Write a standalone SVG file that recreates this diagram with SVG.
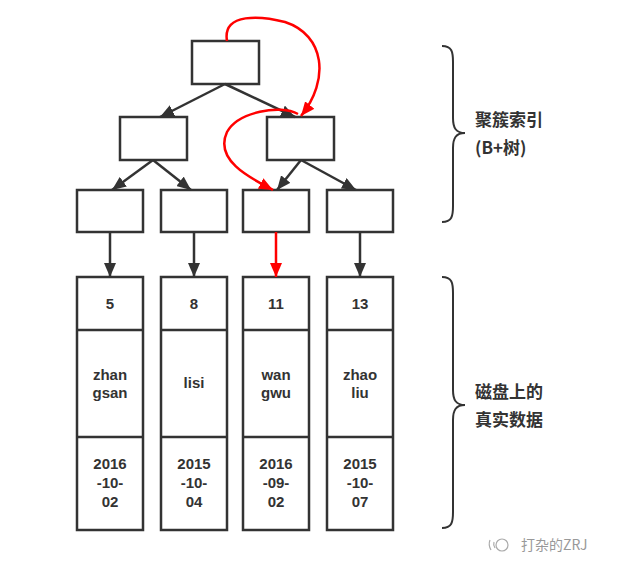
<svg xmlns="http://www.w3.org/2000/svg" width="617" height="566" viewBox="0 0 617 566">
<style>
.box{fill:#fff;stroke:#333;stroke-width:2.5}
.e{fill:none;stroke:#333;stroke-width:2.5}
.r{fill:none;stroke:#f00;stroke-width:2.5}
.t{font-family:"Liberation Sans",Arial,sans-serif;font-weight:bold;font-size:15px;fill:#333;text-anchor:middle}
.lbl{font-family:"Noto Sans CJK SC","Liberation Sans",sans-serif;font-weight:bold;font-size:17px;fill:#333}
.wm{font-family:"Noto Sans CJK SC",sans-serif;font-size:14px;fill:#999}
.br{fill:none;stroke:#333;stroke-width:2}
</style>
<defs>
<marker id="ak" markerWidth="14" markerHeight="12" refX="14" refY="6" orient="auto" markerUnits="userSpaceOnUse"><path d="M0,0 L14,6 L0,12 Z" fill="#333"/></marker>
<marker id="ar" markerWidth="14" markerHeight="12" refX="14" refY="6" orient="auto" markerUnits="userSpaceOnUse"><path d="M0,0 L14,6 L0,12 Z" fill="#f00"/></marker>
</defs>
<rect width="617" height="566" fill="#fff"/>
<g id="root"><rect class="box" x="192" y="41" width="67" height="43"/></g>
<g id="mid-left"><rect class="box" x="120" y="117" width="67" height="43"/></g>
<g id="mid-right"><rect class="box" x="267" y="117" width="67" height="43"/></g>
<g id="leaf1"><rect class="box" x="77" y="190" width="66" height="42"/></g>
<g id="leaf2"><rect class="box" x="161" y="190" width="66" height="42"/></g>
<g id="leaf3"><rect class="box" x="243" y="190" width="66" height="42"/></g>
<g id="leaf4"><rect class="box" x="327" y="190" width="66" height="42"/></g>
<g id="col1"><rect class="box" x="77" y="277" width="66" height="253"/><line class="e" x1="77" y1="330" x2="143" y2="330"/><line class="e" x1="77" y1="437" x2="143" y2="437"/>
<text class="t" x="110" y="309">5</text><text class="t" x="110" y="380">zhan<tspan x="110" dy="18">gsan</tspan></text><text class="t" x="110" y="469">2016<tspan x="110" dy="19">-10-</tspan><tspan x="110" dy="19">02</tspan></text></g>
<g id="col2"><rect class="box" x="161" y="277" width="66" height="253"/><line class="e" x1="161" y1="330" x2="227" y2="330"/><line class="e" x1="161" y1="437" x2="227" y2="437"/>
<text class="t" x="194" y="309">8</text><text class="t" x="194" y="388">lisi</text><text class="t" x="194" y="469">2015<tspan x="194" dy="19">-10-</tspan><tspan x="194" dy="19">04</tspan></text></g>
<g id="col3"><rect class="box" x="243" y="277" width="66" height="253"/><line class="e" x1="243" y1="330" x2="309" y2="330"/><line class="e" x1="243" y1="437" x2="309" y2="437"/>
<text class="t" x="276" y="309">11</text><text class="t" x="276" y="380">wan<tspan x="276" dy="18">gwu</tspan></text><text class="t" x="276" y="469">2016<tspan x="276" dy="19">-09-</tspan><tspan x="276" dy="19">02</tspan></text></g>
<g id="col4"><rect class="box" x="327" y="277" width="66" height="253"/><line class="e" x1="327" y1="330" x2="393" y2="330"/><line class="e" x1="327" y1="437" x2="393" y2="437"/>
<text class="t" x="360" y="309">13</text><text class="t" x="360" y="380">zhao<tspan x="360" dy="18">liu</tspan></text><text class="t" x="360" y="469">2015<tspan x="360" dy="19">-10-</tspan><tspan x="360" dy="19">07</tspan></text></g>
<g id="connectors">
<line class="e" x1="225" y1="84" x2="160" y2="117" marker-end="url(#ak)"/>
<line class="e" x1="225" y1="84" x2="295" y2="117" marker-end="url(#ak)"/>
<line class="e" x1="153" y1="160" x2="112" y2="190" marker-end="url(#ak)"/>
<line class="e" x1="153" y1="160" x2="191" y2="190" marker-end="url(#ak)"/>
<line class="e" x1="301" y1="160" x2="277" y2="190" marker-end="url(#ak)"/>
<line class="e" x1="301" y1="160" x2="356" y2="190" marker-end="url(#ak)"/>
<line class="e" x1="110" y1="232" x2="110" y2="277" marker-end="url(#ak)"/>
<line class="e" x1="194" y1="232" x2="194" y2="277" marker-end="url(#ak)"/>
<line class="e" x1="360" y1="232" x2="360" y2="277" marker-end="url(#ak)"/>
<line class="r" x1="276" y1="232" x2="276" y2="277" marker-end="url(#ar)"/>
<path class="r" d="M227,41 C222,12 262,16 285,22 C325,35 330,80 301,116" marker-end="url(#ar)"/>
<path class="r" d="M298,114 C280,104 238,112 227,132 C214,160 250,178 273,190" marker-end="url(#ar)"/>
</g>
<g id="brace-top"><path class="br" d="M442,46 C452,46 453,52 453,62 L453,118 C453,128 456,133 465,133 C456,133 453,138 453,148 L453,206 C453,216 452,222 442,222"/>
<text class="lbl" x="475" y="126">聚簇索引</text><text class="lbl" x="475" y="154">(B+树)</text></g>
<g id="brace-bottom"><path class="br" d="M442,277 C452,277 453,283 453,293 L453,390 C453,400 456,405 465,405 C456,405 453,410 453,420 L453,512 C453,522 452,528 442,528"/>
<text class="lbl" x="475" y="398">磁盘上的</text><text class="lbl" x="475" y="426">真实数据</text></g>
<g id="watermark"><circle cx="502" cy="545" r="6" fill="none" stroke="#aaa" stroke-width="1.2"/><path d="M490,540 Q488,545 491,550 M494,542 Q493,545 495,548" fill="none" stroke="#aaa" stroke-width="1.2"/>
<text class="wm" x="521" y="550">打杂的ZRJ</text></g>
</svg>
